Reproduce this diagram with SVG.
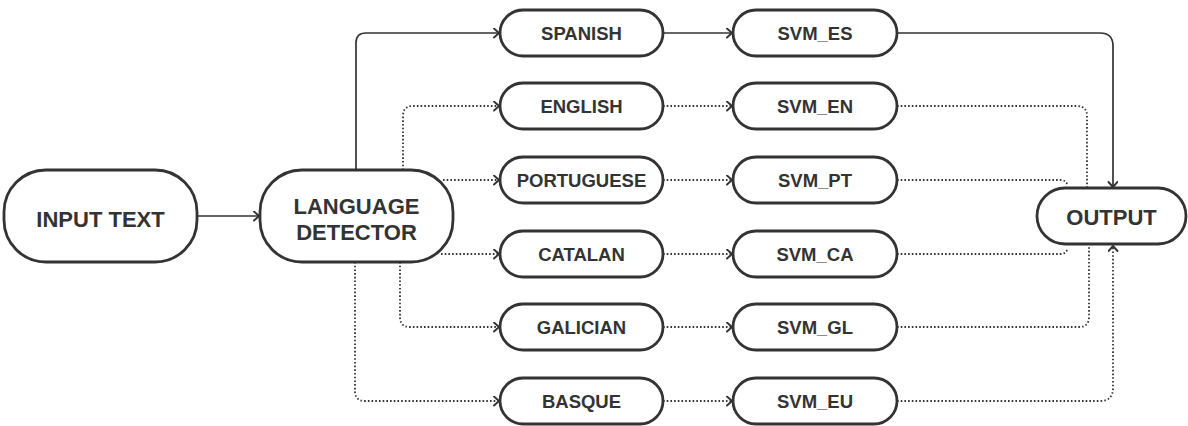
<svg xmlns="http://www.w3.org/2000/svg" width="1188" height="426" viewBox="0 0 1188 426">
<style>
.box{fill:#fff;stroke:#333;stroke-width:2.8}
.t{font-family:"Liberation Sans",Arial,sans-serif;font-weight:bold;fill:#333;text-anchor:middle}
.big{font-size:22px}
.sm{font-size:18.5px}
.c{fill:none;stroke:#333;stroke-width:1.7}
.d{stroke-dasharray:1.6 2.1;stroke-width:1.8}
</style>
<defs>
<marker id="ah" markerUnits="userSpaceOnUse" markerWidth="12" markerHeight="12" refX="6" refY="5" orient="auto" viewBox="0 0 12 12">
<path d="M1,0.5 L6,5 L1,9.5" fill="none" stroke="#333" stroke-width="1.9" stroke-linecap="round" stroke-linejoin="round"/>
</marker>
</defs>
<rect width="1188" height="426" fill="#fff"/>
<g id="connectors">
<path class="c" d="M197,216 H259" marker-end="url(#ah)"/>
<path class="c" d="M356,170 V43 Q356,33 366,33 H499" marker-end="url(#ah)"/>
<path class="c d" d="M403,170 V116 Q403,106 413,106 H499" marker-end="url(#ah)"/>
<path class="c d" d="M443,180 H499" marker-end="url(#ah)"/>
<path class="c d" d="M441,254 H499" marker-end="url(#ah)"/>
<path class="c d" d="M400,262 V317 Q400,327 410,327 H499" marker-end="url(#ah)"/>
<path class="c d" d="M355,262 V391 Q355,401 365,401 H499" marker-end="url(#ah)"/>
<path class="c" d="M663,33 H732" marker-end="url(#ah)"/>
<path class="c d" d="M663,106 H732" marker-end="url(#ah)"/>
<path class="c d" d="M663,180 H732" marker-end="url(#ah)"/>
<path class="c d" d="M663,254 H732" marker-end="url(#ah)"/>
<path class="c d" d="M663,327 H732" marker-end="url(#ah)"/>
<path class="c d" d="M663,401 H732" marker-end="url(#ah)"/>
<path class="c" d="M897,33 H1100 Q1113,33 1113,46 V187" marker-end="url(#ah)"/>
<path class="c d" d="M897,106 H1077 Q1087,106 1087,116 V188"/>
<path class="c d" d="M897,180 H1061 Q1066,180 1068,186"/>
<path class="c d" d="M897,254 H1061 Q1066,254 1068,248"/>
<path class="c d" d="M897,327 H1079 Q1089,327 1089,317 V244"/>
<path class="c d" d="M897,401 H1100 Q1113,401 1113,388 V246" marker-end="url(#ah)"/>
</g>
<g id="input"><rect class="box" x="4" y="170" width="193" height="92" rx="42"/><text class="t big" x="100.5" y="227">INPUT TEXT</text></g>
<g id="detector"><rect class="box" x="260" y="170" width="193" height="92" rx="42"/><text class="t big" x="356.5" y="214">LANGUAGE</text><text class="t big" x="356.5" y="240">DETECTOR</text></g>
<g id="spanish"><rect class="box" x="500" y="10" width="163" height="46" rx="23"/><text class="t sm" x="581.5" y="40">SPANISH</text></g>
<g id="english"><rect class="box" x="500" y="83" width="163" height="46" rx="23"/><text class="t sm" x="581.5" y="113">ENGLISH</text></g>
<g id="portuguese"><rect class="box" x="500" y="157" width="163" height="46" rx="23"/><text class="t sm" x="581.5" y="187">PORTUGUESE</text></g>
<g id="catalan"><rect class="box" x="500" y="231" width="163" height="46" rx="23"/><text class="t sm" x="581.5" y="261">CATALAN</text></g>
<g id="galician"><rect class="box" x="500" y="304" width="163" height="46" rx="23"/><text class="t sm" x="581.5" y="334">GALICIAN</text></g>
<g id="basque"><rect class="box" x="500" y="378" width="163" height="46" rx="23"/><text class="t sm" x="581.5" y="408">BASQUE</text></g>
<g id="svm_es"><rect class="box" x="733" y="10" width="164" height="46" rx="23"/><text class="t sm" x="815" y="40">SVM_ES</text></g>
<g id="svm_en"><rect class="box" x="733" y="83" width="164" height="46" rx="23"/><text class="t sm" x="815" y="113">SVM_EN</text></g>
<g id="svm_pt"><rect class="box" x="733" y="157" width="164" height="46" rx="23"/><text class="t sm" x="815" y="187">SVM_PT</text></g>
<g id="svm_ca"><rect class="box" x="733" y="231" width="164" height="46" rx="23"/><text class="t sm" x="815" y="261">SVM_CA</text></g>
<g id="svm_gl"><rect class="box" x="733" y="304" width="164" height="46" rx="23"/><text class="t sm" x="815" y="334">SVM_GL</text></g>
<g id="svm_eu"><rect class="box" x="733" y="378" width="164" height="46" rx="23"/><text class="t sm" x="815" y="408">SVM_EU</text></g>
<g id="output"><rect class="box" x="1037" y="188" width="149" height="56" rx="28"/><text class="t big" x="1111.5" y="225">OUTPUT</text></g>
</svg>
